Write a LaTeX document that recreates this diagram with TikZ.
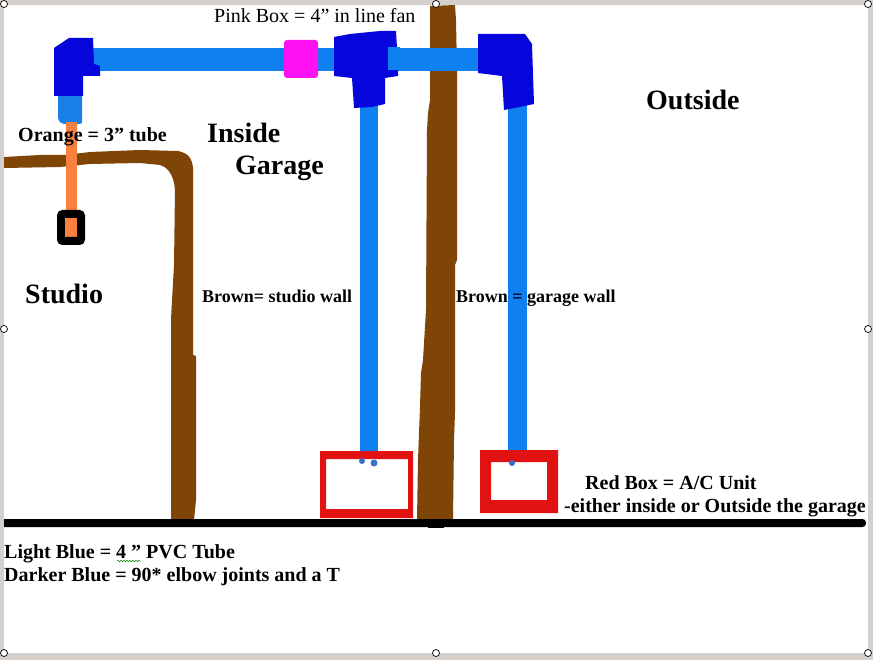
\documentclass[tikz,border=0pt]{standalone}
\usepackage{fontspec}
\usetikzlibrary{decorations.pathmorphing}
\setmainfont{Liberation Serif}
\definecolor{framec}{HTML}{D6D0CC}
\definecolor{tube}{HTML}{0F80F0}
\definecolor{tubelow}{HTML}{1A80E8}
\definecolor{joint}{HTML}{0505DC}
\definecolor{wall}{HTML}{7F4506}
\definecolor{acred}{HTML}{E01212}
\definecolor{pinkbox}{HTML}{FF10F0}
\definecolor{orangetube}{HTML}{FA8040}
\definecolor{dotc}{HTML}{3A70C8}
\tikzset{
  handle/.style={circle,draw=black,fill=white,line width=0.7pt,minimum size=7pt,inner sep=0pt},
  lbl/.style={inner sep=0pt,anchor=base west,font=\bfseries\fontsize{#1}{#1}\selectfont},
  lbl/.default=16,
  plain/.style={inner sep=0pt,anchor=base west,font=\fontsize{20}{20}\selectfont},
}
\begin{document}
\begin{tikzpicture}[x=1pt,y=-1pt]
\useasboundingbox (0,0) rectangle (873,660);
\fill[framec] (0,0) rectangle (873,660);
\fill[white] (4,5) rectangle (868,653);
% walls
\fill[wall] (4,157) -- (40,155) -- (65,155) -- (90,152) -- (140,150) -- (178,151) .. controls (188,153) and (192,158) .. (193,168) -- (193,355) -- (196,356) -- (196,500) -- (194,520) -- (171,520) -- (171,320) -- (172,300) -- (174,265) -- (175,190) .. controls (174,178) and (170,168) .. (160,165) -- (140,163) -- (90,164) -- (60,167) -- (4,168) -- cycle;
\fill[wall] (430,6) -- (455,5) -- (456,20) -- (457,70) -- (457,260) -- (455,265) -- (455,413) -- (454,440) -- (453,520) -- (417,520) -- (418,460) -- (420,407) -- (421,373) -- (423,360) -- (426,310) -- (427,130) -- (428,113) -- (430,100) -- cycle;
% horizontal tube
\fill[tube] (90,48) rectangle (480,71);
% vertical tubes
\fill[tube] (360,100) rectangle (378,452);
\fill[tube] (508,100) rectangle (527,452);
\fill[tubelow,rounded corners=2pt] (58,90) -- (82,90) -- (82,124) -- (62,124) -- (58,120) -- cycle;
% orange tube
\fill[orangetube] (66,122) rectangle (77,238);
% black ring
\draw[black,line width=8pt,rounded corners=2pt] (61,214) rectangle (81,241);
\fill[orangetube] (65,219) rectangle (76,236);
% joints
\fill[joint] (54,48) -- (69,38) -- (93,38) -- (94,64) -- (100,66) -- (100,76) -- (83,76) -- (83,96) -- (54,96) -- cycle;
\fill[joint] (334,37) -- (350,34) -- (380,31) -- (396,31) -- (397,48) -- (388,50) -- (389,68) -- (398,69) -- (398,76) -- (385,78) -- (385,104) -- (372,107) -- (354,108) -- (352,78) -- (334,76) -- cycle;
\fill[joint] (478,34) -- (525,34) -- (532,44) -- (534,104) -- (515,108) -- (504,110) -- (502,76) -- (478,73) -- cycle;
\fill[tube] (388,47) rectangle (400,70);
% pink
\fill[pinkbox,rounded corners=3pt] (284,40) rectangle (318,78);
% ac boxes
\fill[acred,even odd rule] (320,451) rectangle (413,518) (326,459) rectangle (408,509);
\fill[acred,even odd rule] (480,450) rectangle (558,513) (491,462) rectangle (547,500);
\fill[dotc] (362,461) circle (3pt) (374,463) circle (3.5pt) (512,463) circle (3pt);
% floor
\fill[black,rounded corners=3.5pt] (0,519) -- (866,519) -- (866,527) -- (0,527) -- cycle;
\fill[framec] (0,515) rectangle (4,530);
\fill[black] (428,526) rectangle (444,528);
% text
\node[plain] (pink) at (214,23) {Pink Box = 4” in line fan};
\node[lbl=20] (orange) at (18,142) {Orange = 3” tube};
\node[lbl=28] (inside) at (207,143) {Inside};
\node[lbl=28] (garage) at (235,175) {Garage};
\node[lbl=28] (outside) at (646,110) {Outside};
\node[lbl=28] (studio) at (25,304) {Studio};
\node[lbl=18] (bstudio) at (202,303) {Brown= studio wall};
\node[lbl=18] (bgarage) at (456,303) {Brown = garage wall};
\node[lbl=20] (red) at (585,489) {Red Box = A/C Unit};
\node[lbl=20] (either) at (564,512) {-either inside or Outside the garage};
\node[lbl=20] (light) at (4,558) {Light Blue = 4 ” PVC Tube};
\node[lbl=20] (darker) at (4,581) {Darker Blue = 90* elbow joints and a T};
\draw[green!50!black,line width=0.5pt,decorate,decoration={snake,amplitude=0.7pt,segment length=3pt}] (117,561) -- (141,561);
% handles
\node[handle] (h1) at (4,4) {};
\node[handle] (h2) at (436,4) {};
\node[handle] (h3) at (868,4) {};
\node[handle] (h4) at (4,329) {};
\node[handle] (h5) at (868,329) {};
\node[handle] (h6) at (4,653) {};
\node[handle] (h7) at (436,653) {};
\node[handle] (h8) at (868,653) {};
\end{tikzpicture}
\end{document}
